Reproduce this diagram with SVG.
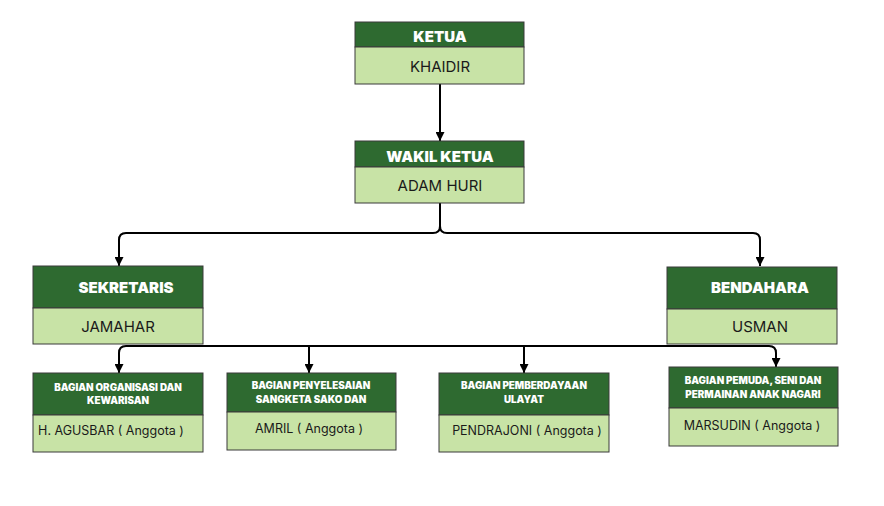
<svg xmlns="http://www.w3.org/2000/svg" width="884" height="506" viewBox="0 0 884 506">
<defs>
<style>
.hd{fill:#2e6a30;stroke:#3a3a3a;stroke-width:1}
.bd{fill:#c8e3a6;stroke:#3a3a3a;stroke-width:1}
.ht{font-family:Inter,"Liberation Sans",sans-serif;font-weight:900;fill:#ffffff;text-anchor:middle}
.bt{font-family:Inter,"Liberation Sans",sans-serif;font-weight:400;fill:#1a1a1a;text-anchor:middle}
.big{font-size:15px}
.sm{font-size:9.8px}
.mid{font-size:12.5px}
.ln{fill:none;stroke:#000;stroke-width:2}
</style>
<marker id="ah" viewBox="0 0 10 10" refX="10" refY="5" markerWidth="4.5" markerHeight="4.5" orient="auto" markerUnits="strokeWidth">
<path d="M0,0 L10,5 L0,10 z" fill="#000"/>
</marker>
</defs>
<rect width="884" height="506" fill="#ffffff"/>
<g id="connectors">
<path class="ln" d="M440,84 V141" marker-end="url(#ah)"/>
<path class="ln" d="M440,203 V226 Q440,233 433,233 H126 Q119,233 119,240 V266" marker-end="url(#ah)"/>
<path class="ln" d="M440,226 Q440,233 447,233 H753 Q760,233 760,240 V266" marker-end="url(#ah)"/>
<path class="ln" d="M126,346 H769 Q776,346 776,353 V367" marker-end="url(#ah)"/>
<path class="ln" d="M126,346 Q119,346 119,353 V373" marker-end="url(#ah)"/>
<path class="ln" d="M309,346 V373" marker-end="url(#ah)"/>
<path class="ln" d="M524,346 V373" marker-end="url(#ah)"/>
</g>
<g id="ketua">
<rect class="hd" x="355" y="22" width="169" height="25"/>
<rect class="bd" x="355" y="47" width="169" height="37"/>
<text class="ht" x="440" y="42" font-size="15">KETUA</text>
<text class="bt big" x="440" y="72">KHAIDIR</text>
</g>
<g id="wakil">
<rect class="hd" x="355" y="141" width="169" height="26"/>
<rect class="bd" x="355" y="167" width="169" height="36"/>
<text class="ht" x="440" y="162" font-size="15">WAKIL KETUA</text>
<text class="bt big" x="440" y="191">ADAM HURI</text>
</g>
<g id="sekretaris">
<rect class="hd" x="33" y="266" width="170" height="42"/>
<rect class="bd" x="33" y="308" width="170" height="36"/>
<text class="ht" x="126" y="293" font-size="15">SEKRETARIS</text>
<text class="bt big" x="118" y="332">JAMAHAR</text>
</g>
<g id="bendahara">
<rect class="hd" x="667" y="267" width="170" height="42"/>
<rect class="bd" x="667" y="309" width="170" height="35"/>
<text class="ht" x="760" y="293" font-size="15">BENDAHARA</text>
<text class="bt big" x="760" y="332">USMAN</text>
</g>
<g id="bagian1">
<rect class="hd" x="33" y="373" width="170" height="42"/>
<rect class="bd" x="33" y="415" width="170" height="37"/>
<text class="ht sm" x="118" y="391">BAGIAN ORGANISASI DAN</text>
<text class="ht sm" x="118" y="404">KEWARISAN</text>
<text class="bt mid" x="111" y="435">H. AGUSBAR ( Anggota )</text>
</g>
<g id="bagian2">
<rect class="hd" x="227" y="373" width="169" height="39"/>
<rect class="bd" x="227" y="412" width="169" height="38"/>
<text class="ht sm" x="311" y="389">BAGIAN PENYELESAIAN</text>
<text class="ht sm" x="311" y="403">SANGKETA SAKO DAN</text>
<text class="bt mid" x="309" y="433">AMRIL ( Anggota )</text>
</g>
<g id="bagian3">
<rect class="hd" x="439" y="373" width="170" height="42"/>
<rect class="bd" x="439" y="415" width="170" height="37"/>
<text class="ht sm" x="524" y="389">BAGIAN PEMBERDAYAAN</text>
<text class="ht sm" x="524" y="403">ULAYAT</text>
<text class="bt mid" x="527" y="435">PENDRAJONI ( Anggota )</text>
</g>
<g id="bagian4">
<rect class="hd" x="669" y="367" width="169" height="41"/>
<rect class="bd" x="669" y="408" width="169" height="38"/>
<text class="ht sm" x="753" y="384">BAGIAN PEMUDA, SENI DAN</text>
<text class="ht sm" x="753" y="398">PERMAINAN ANAK NAGARI</text>
<text class="bt mid" x="752" y="430">MARSUDIN ( Anggota )</text>
</g>
</svg>
